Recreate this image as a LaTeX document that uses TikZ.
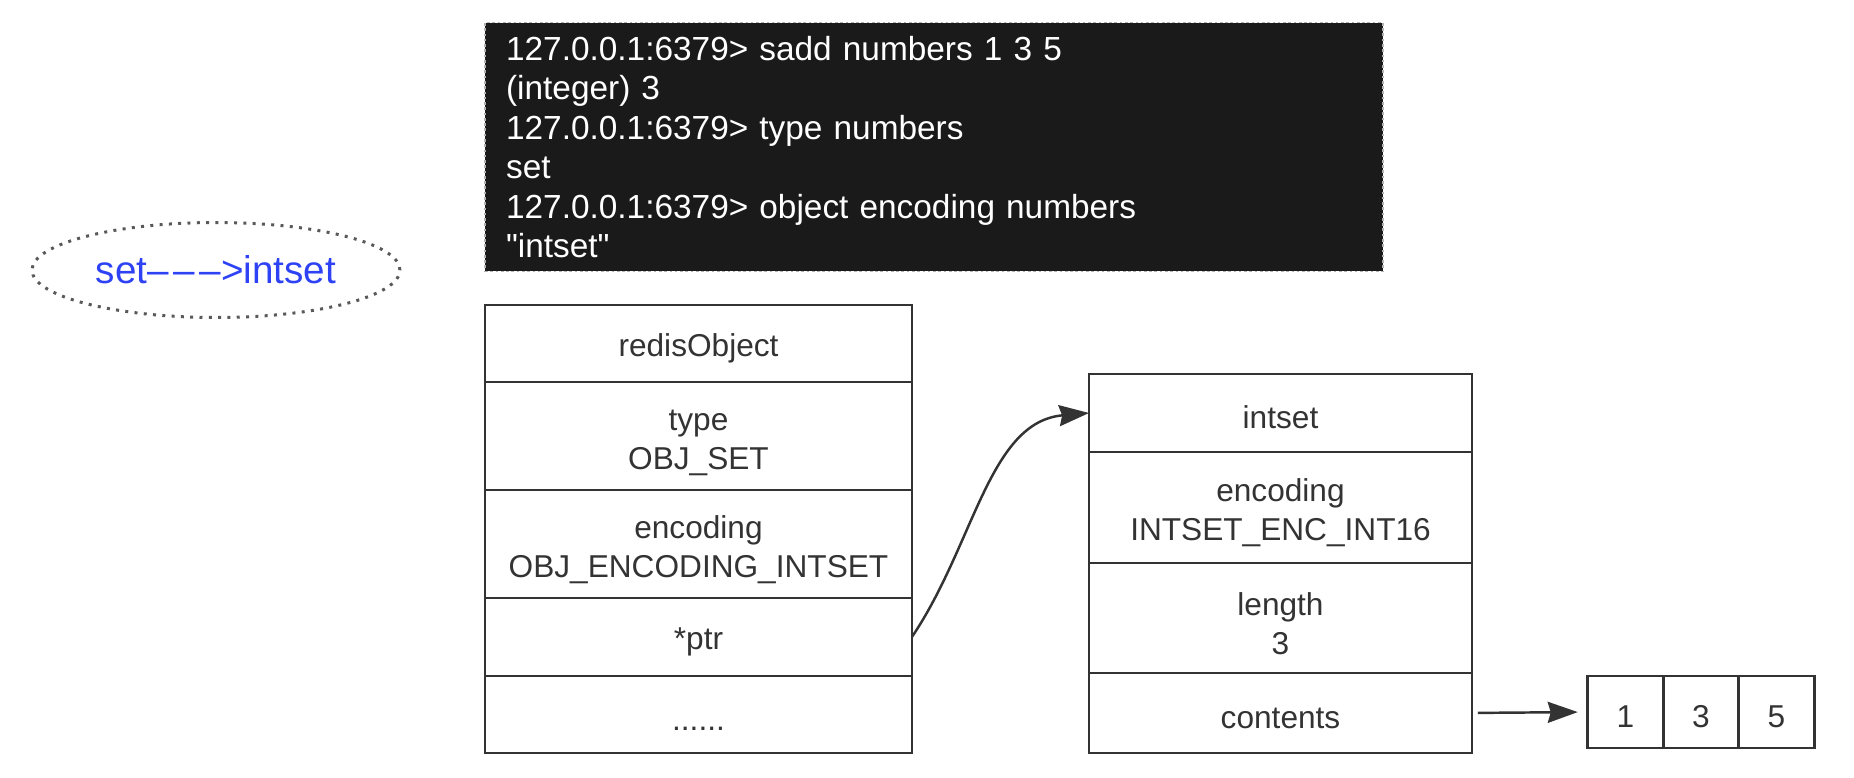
\documentclass[tikz,border=0pt]{standalone}
\usepackage{fontspec}
\setmainfont{Liberation Sans}
\newfontfamily\termfont{Liberation Sans}[Ligatures=TeXOff]
\usetikzlibrary{shapes.geometric, arrows.meta, positioning}
\definecolor{termBg}{RGB}{26, 26, 26}
\definecolor{lineDark}{RGB}{51, 51, 51}
\definecolor{tagBlue}{RGB}{45, 65, 245}

\begin{document}
\begin{tikzpicture}[x=0.02cm, y=-0.02cm,
    every node/.style={font=\fontsize{18}{22.2}\selectfont, text=lineDark},
    cell/.style={draw=lineDark, line width=1.6pt, align=center, inner sep=0pt, outer sep=0pt,
      execute at begin node={\rule{0pt}{18pt}}},
    robox/.style={cell, minimum width=8.54cm},
    isbox/.style={cell, minimum width=7.66cm},
    numbox/.style={cell, minimum width=1.51cm, minimum height=1.44cm},
    link/.style={draw=lineDark, line width=1.4pt, -{Stealth[length=0.6cm, width=0.42cm, inset=0.06cm]}},
    tag/.style={ellipse, draw=gray!70!black, line width=1.7pt, dash pattern=on 1.7pt off 3.6pt,
      minimum width=7.36cm, minimum height=1.9cm, inner sep=0pt, text=tagBlue, font=\fontsize{22}{26}\selectfont},
    term/.style={fill=termBg, draw=gray!60, dash pattern=on 1.5pt off 1.5pt, line width=0.9pt,
      minimum width=17.96cm, minimum height=4.98cm, text width=17.12cm, inner xsep=0.42cm,
      align=left, text=white, font=\termfont\fontsize{19}{22.5}\selectfont}]
    \newcommand{\st}{\rule{0pt}{19.5pt}}
    \useasboundingbox (0,0) rectangle (1854,778);
    % Encoding tag
    \node[tag] (tag) at (216,270) {set\textendash\kern0.12em\textendash\kern0.12em\textendash>intset};
    % Terminal session
    \node[term] (cli) at (934,147) {127.0.0.1:6379> sadd numbers 1 3 5\\(integer) 3\\127.0.0.1:6379> type numbers\\set\\127.0.0.1:6379> object encoding numbers\\"intset"};
    % redisObject
    \node[robox, minimum height=1.54cm] (ro0) at (698.5,343.5) {redisObject};
    \node[robox, minimum height=2.16cm, below=0pt of ro0] (ro1) {\st type\\OBJ\_SET};
    \node[robox, minimum height=2.16cm, below=0pt of ro1] (ro2) {\st encoding\\OBJ\_ENCODING\_INTSET};
    \node[robox, minimum height=1.56cm, below=0pt of ro2] (ro3) {*ptr};
    \node[robox, minimum height=1.54cm, below=0pt of ro3] (ro4) {......};
    % intset
    \node[isbox, minimum height=1.56cm] (is0) at (1280.5,413) {intset};
    \node[isbox, minimum height=2.22cm, below=0pt of is0] (is1) {\st encoding\\INTSET\_ENC\_INT16};
    \node[isbox, minimum height=2.2cm, below=0pt of is1] (is2) {\st length\\3};
    \node[isbox, minimum height=1.6cm, below=0pt of is2] (is3) {contents};
    % Contents array
    \node[numbox] (n1) at (1625.5,712) {1};
    \node[numbox, right=0pt of n1] (n3) {3};
    \node[numbox, right=0pt of n3] (n5) {5};
    % Pointers
    \draw[link] (ro3.east) to[out=56, in=185, in looseness=0.9] (is0.west);
    \draw[link, shorten <=0.12cm, shorten >=0.2cm] (is3.east) -- (n1.west);
\end{tikzpicture}
\end{document}
